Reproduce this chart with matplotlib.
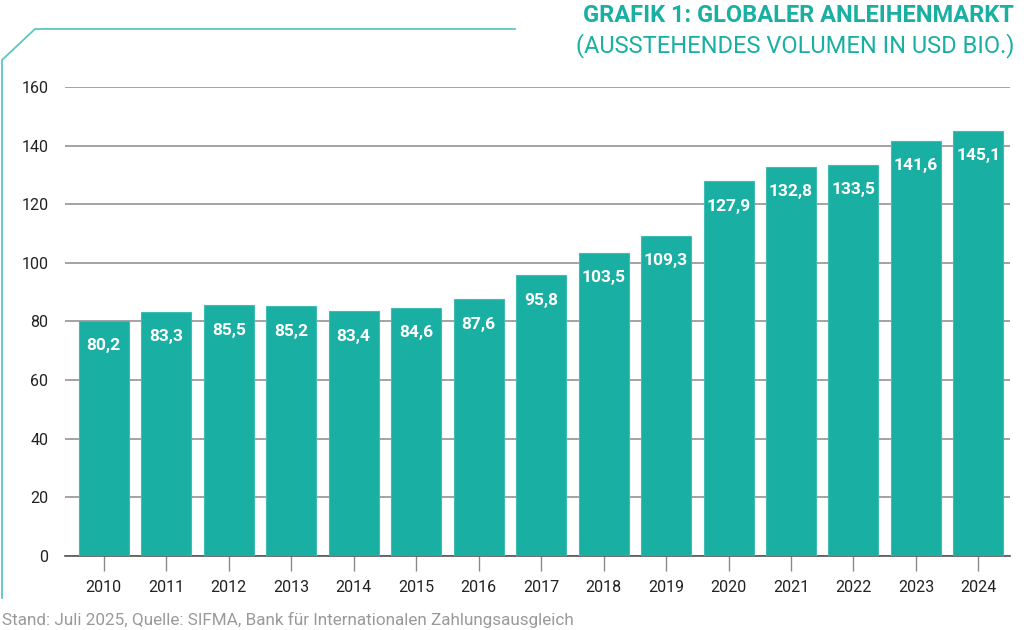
import matplotlib
matplotlib.use("Agg")
import matplotlib.pyplot as plt
from matplotlib.lines import Line2D

years = ["2010", "2011", "2012", "2013", "2014", "2015", "2016", "2017",
         "2018", "2019", "2020", "2021", "2022", "2023", "2024"]
values = [80.2, 83.3, 85.5, 85.2, 83.4, 84.6, 87.6, 95.8, 103.5, 109.3,
          127.9, 132.8, 133.5, 141.6, 145.1]
yticks = [0, 20, 40, 60, 80, 100, 120, 140, 160]

teal = "#1AAFA3"
plt.rcParams['font.family'] = ['Roboto', 'DejaVu Sans']

fig = plt.figure(figsize=(10.24, 6.3), dpi=100)
ax = fig.add_axes([0.0635, 0.1175, 0.9225, 0.7445])

x = list(range(len(years)))
ax.bar(x, values, width=0.8, color=teal, edgecolor="#3FBDB2",
       linewidth=0.8, zorder=3)
for xi, v in zip(x, values):
    ax.annotate(f"{v:.1f}".replace(".", ","), (xi, v), xytext=(0, -18),
                textcoords="offset points", ha="center", va="center",
                color="white", fontsize=12.5, fontweight="bold", zorder=4)

ax.set_xlim(-0.62, 14.5)
ax.set_ylim(0, 160)
ax.set_yticks(yticks)
ax.set_xticks(x)
ax.set_xticklabels(years)
ax.yaxis.grid(True, color="#8a8a8a", linewidth=1.1, zorder=0)
ax.tick_params(axis="y", length=0, pad=12, labelsize=11.5, labelcolor="#222222")
ax.tick_params(axis="x", length=11, width=1, color="#8a8a8a", pad=6,
               labelsize=11.5, labelcolor="#222222")
for s in ["top", "right", "left"]:
    ax.spines[s].set_visible(False)
ax.spines["bottom"].set_color("#555555")
ax.spines["bottom"].set_linewidth(1.2)

# decorative frame line
W, H = 1024, 630
pts_x = [2 / W, 2 / W, 35 / W, 515 / W]
pts_y = [1 - 598 / H, 1 - 60 / H, 1 - 29 / H, 1 - 29 / H]
fig.add_artist(Line2D(pts_x, pts_y, color="#5CC8BE", linewidth=1.3,
                      transform=fig.transFigure))

fig.text(1014 / W, 1 - 16 / H, "GRAFIK 1: GLOBALER ANLEIHENMARKT",
         ha="right", va="center", color=teal, fontsize=17,
         fontweight="bold")
fig.text(1014 / W, 1 - 46 / H, "(AUSSTEHENDES VOLUMEN IN USD BIO.)",
         ha="right", va="center", color=teal, fontsize=17)

fig.text(2 / W, 1 - 620 / H,
         "Stand: Juli 2025, Quelle: SIFMA, Bank für Internationalen Zahlungsausgleich",
         ha="left", va="center", color="#9a9a9a", fontsize=12.3)

fig.savefig("out.png", dpi=100)
